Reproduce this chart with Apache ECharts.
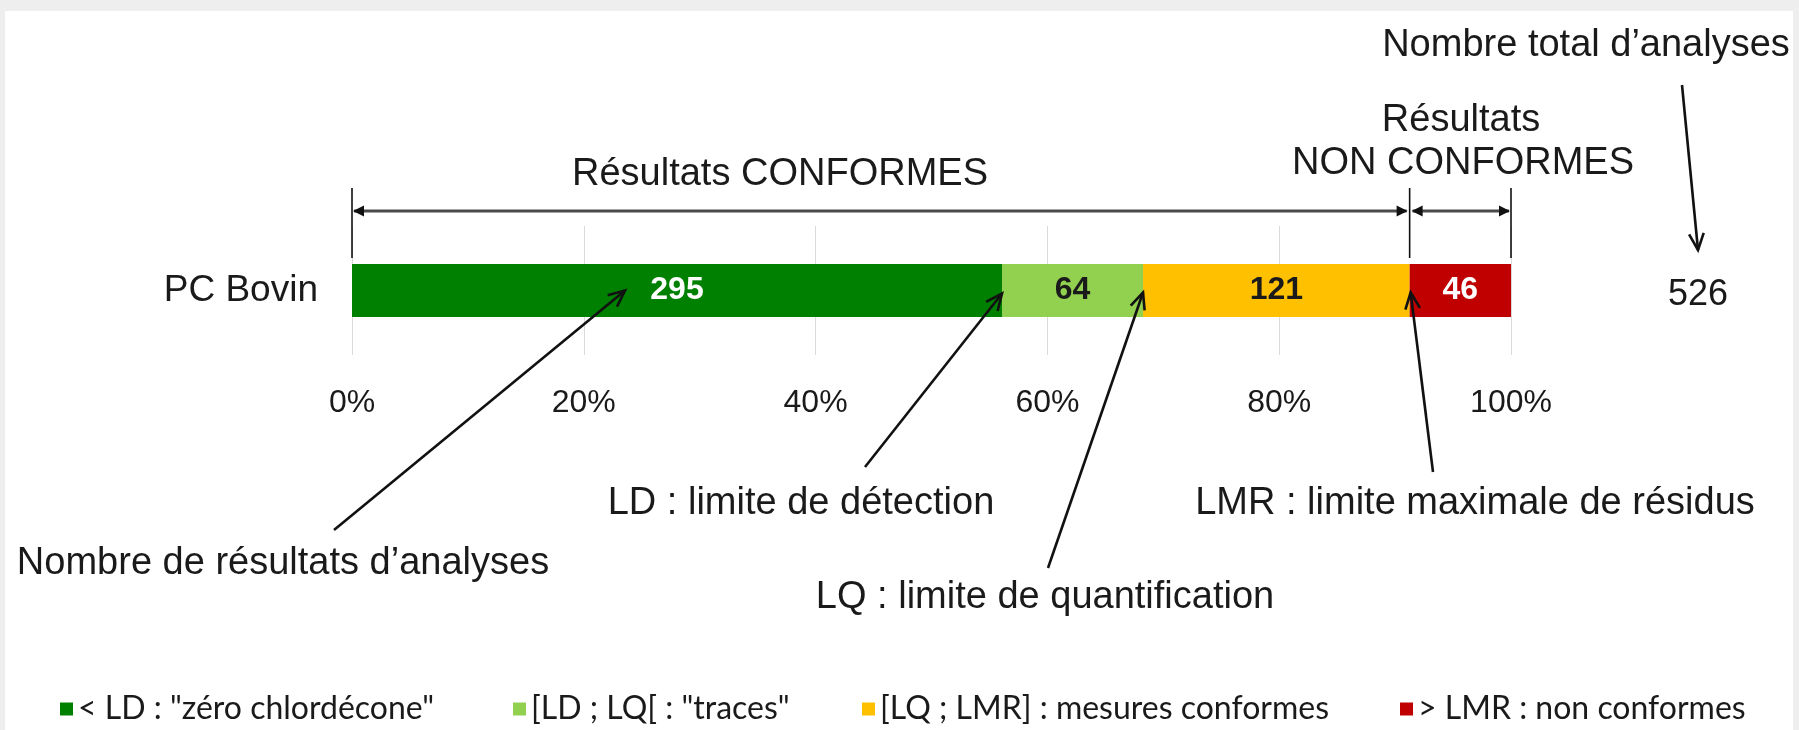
<!DOCTYPE html>
<html>
<head>
<meta charset="utf-8">
<script src="https://cdn.jsdelivr.net/npm/echarts@6/dist/echarts.min.js"></script>
<style>
html,body{margin:0;padding:0;background:#ffffff;}
#c{width:1799px;height:730px;}
</style>
</head>
<body>
<div id="c"></div>
<script>
// ---------- data ----------
const categories = ['PC Bovin'];
const seriesNames = [
  '< LD : "zéro chlordécone"',
  '[LD ; LQ[ : "traces"',
  '[LQ ; LMR] : mesures conformes',
  '> LMR : non conformes'
];
const counts = [295, 64, 121, 46];
const xTickValues = [0, 20, 40, 60, 80, 100];

// ---------- styles ----------
const barColors = ['#008000', '#92d050', '#ffc000', '#c00000'];
const labelColors = ['#ffffff', '#1a1a1a', '#1a1a1a', '#ffffff'];
const SANS = "'Liberation Sans', Arial, sans-serif";
const TXT = '#1a1a1a';

const total = counts.reduce((a, b) => a + b, 0);
const pct = counts.map(c => c / total * 100);
const cum = [0];
pct.forEach((p, i) => cum.push(cum[i] + p));

const chart = echarts.init(document.getElementById('c'), null, {renderer: 'canvas'});

const legendLefts = [60, 513, 862, 1400];

const option = {
  backgroundColor: '#ffffff',
  animation: false,
  grid: {left: 352, top: 226, width: 1159, height: 129, containLabel: false},
  xAxis: {
    type: 'value', min: 0, max: 100, interval: 20,
    axisLine: {show: false}, axisTick: {show: false},
    splitLine: {show: true, lineStyle: {color: '#d9d9d9', width: 1}},
    axisLabel: {
      formatter: v => xTickValues.indexOf(v) >= 0 ? v + '%' : '',
      fontFamily: SANS, fontSize: 32, color: TXT, margin: 32
    }
  },
  yAxis: {
    type: 'category', data: categories,
    axisLine: {show: false}, axisTick: {show: false}, splitLine: {show: false},
    axisLabel: {fontFamily: SANS, fontSize: 37, color: TXT, margin: 34}
  },
  legend: seriesNames.map((n, i) => ({
    data: [n], left: legendLefts[i], top: 693, padding: 0,
    itemWidth: 13, itemHeight: 13, icon: 'rect', selectedMode: false,
    textStyle: {fontFamily: 'Lato, sans-serif', fontSize: 32, color: TXT}
  })),
  series: seriesNames.map((n, i) => ({
    name: n, type: 'bar', stack: 'total', barWidth: 53,
    itemStyle: {color: barColors[i]},
    label: {
      show: true, position: 'inside',
      formatter: () => String(counts[i]),
      fontFamily: SANS, fontWeight: 'bold', fontSize: 32, color: labelColors[i]
    },
    data: [pct[i]]
  }))
};
chart.setOption(option);

// ---------- annotations ----------
const X = v => chart.convertToPixel({xAxisIndex: 0}, v);
const Yc = chart.convertToPixel({yAxisIndex: 0}, categories[0]);
const g = [];

// grey frame
g.push({type: 'rect', shape: {x: 0, y: 0, width: 1799, height: 11}, style: {fill: '#eeeeee'}, z: 0});
g.push({type: 'rect', shape: {x: 0, y: 0, width: 5, height: 730}, style: {fill: '#eeeeee'}, z: 0});
g.push({type: 'rect', shape: {x: 1793, y: 0, width: 6, height: 730}, style: {fill: '#eeeeee'}, z: 0});

function line(x1, y1, x2, y2, w, c) {
  g.push({type: 'line', shape: {x1, y1, x2, y2}, style: {stroke: c, lineWidth: w}, z: 50});
}
function filledHead(tx, ty, dir) { // dir = +1 pointing right, -1 pointing left
  const L = 11, H = 5.5;
  g.push({type: 'polygon', shape: {points: [[tx, ty], [tx - dir * L, ty - H], [tx - dir * L, ty + H]]},
          style: {fill: '#111111'}, z: 51});
}
function arrow(x1, y1, x2, y2) { // tail -> tip, open head
  line(x1, y1, x2, y2, 2.6, '#111111');
  const a = Math.atan2(y2 - y1, x2 - x1), L = 18, s = 0.42;
  g.push({type: 'polyline', shape: {points: [
      [x2 - L * Math.cos(a - s), y2 - L * Math.sin(a - s)], [x2, y2],
      [x2 - L * Math.cos(a + s), y2 - L * Math.sin(a + s)]]},
    style: {stroke: '#111111', lineWidth: 2.6, fill: null}, z: 51});
}
function text(str, x, y, size, opts) {
  g.push(Object.assign({type: 'text', x, y, z: 60, style: Object.assign({
    text: str, fill: TXT, fontFamily: SANS, fontSize: size, align: 'center', verticalAlign: 'middle'
  }, opts || {})}));
}

// brackets
const bx0 = X(cum[0]), bxs = X(cum[3]), bx1 = X(cum[4]);
const by = 211, bt = 188, bb = 258;
line(bx0, bt, bx0, bb, 1.6, '#111111');
line(bxs, bt, bxs, bb, 1.6, '#111111');
line(bx1, bt, bx1, bb, 1.6, '#111111');
line(bx0 + 2, by, bxs - 3, by, 3, '#4a4a4a');
filledHead(bx0 + 1, by, -1);
filledHead(bxs - 2, by, 1);
line(bxs + 3, by, bx1 - 2, by, 3, '#4a4a4a');
filledHead(bxs + 2, by, -1);
filledHead(bx1 - 1, by, 1);

// texts
text('Résultats CONFORMES', 780, 175, 38);
text('Résultats', 1461, 121, 38);
text('NON CONFORMES', 1463, 164, 38);
text('Nombre total d’analyses', 1586, 46, 38);
text(String(total), 1698, 295, 36);
text('Nombre de résultats d’analyses', 283, 564, 38);
text('LD : limite de détection', 801, 504, 38);
text('LQ : limite de quantification', 1045, 598, 38);
text('LMR : limite maximale de résidus', 1475, 504, 38);

// arrows
arrow(334, 530, X(pct[0] * 0.42), Yc);
arrow(865, 467, X(cum[1]), Yc + 3);
arrow(1048, 568, X(cum[2]), Yc + 2);
arrow(1433, 472, X(cum[3]) + 1, Yc + 2);
arrow(1682, 85, 1698, 250);

chart.setOption({graphic: {elements: g}});
</script>
</body>
</html>
